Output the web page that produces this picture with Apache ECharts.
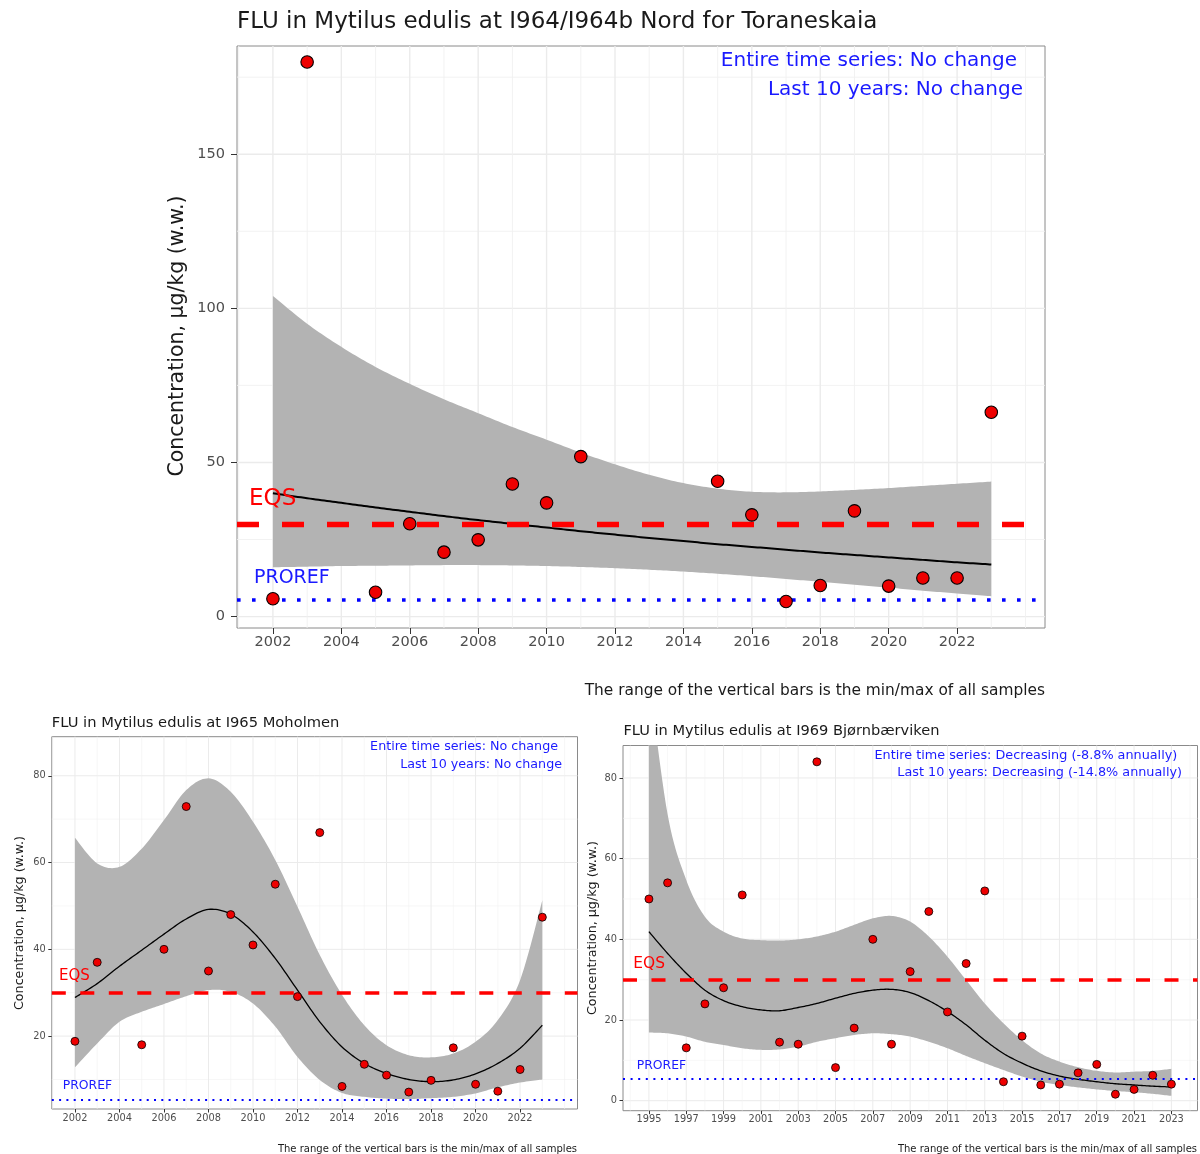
<!DOCTYPE html>
<html><head><meta charset="utf-8">
<script src="https://cdn.jsdelivr.net/npm/echarts@6/dist/echarts.min.js"></script>
<style>html,body{margin:0;padding:0;background:#fff}#c{width:1200px;height:1154px}</style>
</head><body><div id="c"></div>
<script>
// ---------------- DATA ----------------
const EQS = 30;
const PROREF = 5.4;
const caption = 'The range of the vertical bars is the min/max of all samples';
const yTitle = 'Concentration, \u00b5g/kg (w.w.)';

// Panel 1: I964/I964b Nord for Toraneskaia
const p1Title = 'FLU in Mytilus edulis at I964/I964b Nord for Toraneskaia';
const p1TrendAll = 'Entire time series: No change';
const p1Trend10 = 'Last 10 years: No change';
const p1PointYears = [2002,2003,2005,2006,2007,2008,2009,2010,2011,2015,2016,2017,2018,2019,2020,2021,2022,2023];
const p1PointValues = [5.8,179.9,7.9,30.1,20.9,24.9,43.0,36.9,51.9,43.9,33.0,4.9,10.1,34.3,9.9,12.5,12.5,66.3];
const p1FitYears = [2002,2003,2004,2005,2006,2007,2008,2009,2010,2011,2012,2013,2014,2015,2016,2017,2018,2019,2020,2021,2022,2023];
const p1Fit   = [40.0,38.4,36.9,35.4,34.0,32.6,31.3,30.1,28.9,27.7,26.6,25.5,24.5,23.5,22.6,21.7,20.8,20.0,19.2,18.4,17.6,16.9];
const p1Upper = [104,95,87.5,81,75.5,70.5,66,61.5,57.4,53.2,49.4,46,43.3,41.5,40.5,40.3,40.6,41.1,41.7,42.4,43.1,43.8];
const p1Lower = [16.0,16.2,16.4,16.5,16.6,16.7,16.7,16.6,16.4,16.1,15.7,15.2,14.6,13.9,13.1,12.2,11.3,10.3,9.4,8.4,7.5,6.6];
const p1XLabels = [2002,2004,2006,2008,2010,2012,2014,2016,2018,2020,2022];
const p1YLabels = [0,50,100,150];

// Panel 2: I965 Moholmen
const p2Title = 'FLU in Mytilus edulis at I965 Moholmen';
const p2TrendAll = 'Entire time series: No change';
const p2Trend10 = 'Last 10 years: No change';
const p2PointYears = [2002,2003,2005,2006,2007,2008,2009,2010,2011,2012,2013,2014,2015,2016,2017,2018,2019,2020,2021,2022,2023];
const p2PointValues = [18.8,37.0,18.0,40.0,72.9,35.0,48.0,41.0,55.0,29.1,66.9,8.4,13.5,11.0,7.1,9.8,17.3,8.9,7.3,12.3,47.4];
const p2FitYears = [2002,2003,2004,2005,2006,2007,2008,2009,2010,2011,2012,2013,2014,2015,2016,2017,2018,2019,2020,2021,2022,2023];
const p2Fit   = [28.9,32.1,36.1,39.8,43.5,47.0,49.2,48.1,44.0,37.9,30.6,23.3,17.5,13.7,11.4,10.0,9.5,9.9,11.3,13.7,17.2,22.5];
const p2Upper = [65.7,59.8,59.0,63.2,69.8,76.7,79.4,76.3,69.4,60.6,49.8,38.7,29.5,22.5,17.9,15.6,15.1,16.0,18.7,23.7,32.9,51.3];
const p2Lower = [12.8,18.3,23.3,25.6,27.4,29.2,30.6,30.2,27.5,22.2,15.2,9.9,6.9,6.0,5.6,5.5,5.7,6.0,6.8,8.2,9.3,10.0];
const p2XLabels = [2002,2004,2006,2008,2010,2012,2014,2016,2018,2020,2022];
const p2YLabels = [20,40,60,80];

// Panel 3: I969 Bjørnbærviken
const p3Title = 'FLU in Mytilus edulis at I969 Bj\u00f8rnb\u00e6rviken';
const p3TrendAll = 'Entire time series: Decreasing (-8.8% annually)';
const p3Trend10 = 'Last 10 years: Decreasing (-14.8% annually)';
const p3PointYears = [1995,1996,1997,1998,1999,2000,2002,2003,2004,2005,2006,2007,2008,2009,2010,2011,2012,2013,2014,2015,2016,2017,2018,2019,2020,2021,2022,2023];
const p3PointValues = [50,54,13.1,24,28,51,14.5,14,84,8.2,18,40,14,32,46.9,22,34,52,4.7,16,3.9,4.1,6.9,9,1.6,2.8,6.3,4.1];
const p3FitYears = [1995,1996,1997,1998,1999,2000,2001,2002,2003,2004,2005,2006,2007,2008,2009,2010,2011,2012,2013,2014,2015,2016,2017,2018,2019,2020,2021,2022,2023];
const p3Fit   = [41.9,36.5,31.6,27.4,24.8,23.3,22.5,22.3,23.1,24.1,25.4,26.6,27.4,27.6,26.8,24.8,22.1,18.8,15.0,11.7,9.3,7.4,6.1,5.3,4.7,4.2,3.9,3.6,3.4];
const p3Upper = [105,71,54.7,45.6,41.9,40.2,39.8,39.7,40.0,40.7,41.9,43.6,45.2,45.8,44.4,40.7,35.7,29.9,24.1,19.2,15.0,11.7,9.7,8.3,7.4,7.0,7.2,7.4,7.9];
const p3Lower = [16.9,16.7,15.9,14.6,13.8,13.0,12.6,12.7,13.4,14.6,15.5,16.3,16.7,16.5,15.9,14.6,13.0,11.1,9.3,7.6,6.0,4.7,3.9,3.3,2.8,2.4,2.1,1.7,1.2];
const p3XLabels = [1995,1997,1999,2001,2003,2005,2007,2009,2011,2013,2015,2017,2019,2021,2023];
const p3YLabels = [0,20,40,60,80];

// ---------------- LAYOUT / STYLE ----------------
const FONT = 'DejaVu Sans';
const RED = '#ff0000', BLUE = '#1a1aff', DARK = '#1a1a1a', GREY = '#4d4d4d';

const panels = [
  { grid:{left:237, top:46, width:808, height:582}, xr:[2000.95,2024.57], yr:[-3.7,185.1], yMinorStep:25, yMajorStep:50,
    years:p1PointYears, vals:p1PointValues, fy:p1FitYears, fit:p1Fit, up:p1Upper, lo:p1Lower, xl:p1XLabels, yl:p1YLabels,
    lf:14.5, tick:6, mx:7, my:12, ps:12.5, pb:1.1, fw:2, ew:5.3, ed:[22,23], pw:3.6, pd:[3.6,11.4], gM:1.4, gm:0.9 },
  { grid:{left:51.8, top:736.7, width:525.7, height:372.3}, xr:[2000.96,2024.58], yr:[3.2,89.0], yMinorStep:10, yMajorStep:20,
    years:p2PointYears, vals:p2PointValues, fy:p2FitYears, fit:p2Fit, up:p2Upper, lo:p2Lower, xl:p2XLabels, yl:p2YLabels,
    lf:9.8, tick:3.5, mx:4, my:6, ps:8, pb:0.8, fw:1.3, ew:3.6, ed:[14,14.5], pw:2, pd:[2,5.3], gM:1, gm:0.6 },
  { grid:{left:623, top:745.5, width:574.5, height:365.2}, xr:[1993.61,2024.4], yr:[-2.48,88.05], yMinorStep:10, yMajorStep:20,
    years:p3PointYears, vals:p3PointValues, fy:p3FitYears, fit:p3Fit, up:p3Upper, lo:p3Lower, xl:p3XLabels, yl:p3YLabels,
    lf:9.8, tick:3.5, mx:4, my:6, ps:8, pb:0.8, fw:1.3, ew:3.6, ed:[14,14.5], pw:2, pd:[2,5.6], gM:1, gm:0.6 }
];

// Cubic Hermite (Catmull-Rom) smoothing of pixel points, for drawing curves through the read values
function spline(pts, steps) {
  const out = [], n = pts.length;
  for (let i = 0; i < n - 1; i++) {
    const p0 = pts[Math.max(i - 1, 0)], p1 = pts[i], p2 = pts[i + 1], p3 = pts[Math.min(i + 2, n - 1)];
    const m1 = [(p2[0] - p0[0]) / 2, (p2[1] - p0[1]) / 2], m2 = [(p3[0] - p1[0]) / 2, (p3[1] - p1[1]) / 2];
    for (let s = 0; s < steps; s++) {
      const t = s / steps, t2 = t * t, t3 = t2 * t;
      const h00 = 2 * t3 - 3 * t2 + 1, h10 = t3 - 2 * t2 + t, h01 = -2 * t3 + 3 * t2, h11 = t3 - t2;
      out.push([h00 * p1[0] + h10 * m1[0] + h01 * p2[0] + h11 * m2[0],
                h00 * p1[1] + h10 * m1[1] + h01 * p2[1] + h11 * m2[1]]);
    }
  }
  out.push(pts[n - 1]);
  return out;
}

const grids = [], xAxes = [], yAxes = [], series = [];
panels.forEach(function (p, i) {
  grids.push(Object.assign({ show:true, borderColor:'#8a8a8a', borderWidth:1, backgroundColor:'#fff', containLabel:false }, p.grid));
  const lab = { fontFamily:FONT, fontSize:p.lf, color:GREY, formatter: function (v) { return String(Math.round(v)); } };
  xAxes.push({ type:'value', gridIndex:i, min:p.xr[0], max:p.xr[1], splitLine:{show:false},
    axisLine:{show:false, onZero:false},
    axisTick:{show:true, customValues:p.xl, length:p.tick, lineStyle:{color:'#333', width:1}},
    axisLabel:Object.assign({ customValues:p.xl, margin:p.mx }, lab) });
  yAxes.push({ type:'value', gridIndex:i, min:p.yr[0], max:p.yr[1], splitLine:{show:false},
    axisLine:{show:false, onZero:false},
    axisTick:{show:true, customValues:p.yl, length:p.tick, lineStyle:{color:'#333', width:1}},
    axisLabel:Object.assign({ customValues:p.yl, margin:p.my }, lab) });

  // grid lines (drawn through the axes' scales)
  const vx = []; for (let y = Math.ceil(p.xr[0]); y <= Math.floor(p.xr[1]); y++) vx.push(y);
  const hy = []; for (let v = Math.ceil(p.yr[0] / p.yMinorStep) * p.yMinorStep; v <= p.yr[1]; v += p.yMinorStep) hy.push(v);
  const xMajorSet = new Set(p.xl);
  series.push({ type:'custom', xAxisIndex:i, yAxisIndex:i, z:1, silent:true, animation:false,
    data:[[p.xr[0], p.yr[0]]],
    renderItem: function (params, api) {
      const ch = [];
      hy.forEach(function (v) {
        const a = api.coord([p.xr[0], v]), b = api.coord([p.xr[1], v]);
        const major = Math.abs(v / p.yMajorStep - Math.round(v / p.yMajorStep)) < 1e-6;
        ch.push({ type:'line', shape:{x1:a[0], y1:a[1], x2:b[0], y2:b[1]},
          style:{ stroke: major ? '#ebebeb' : '#f1f1f1', lineWidth: major ? p.gM : p.gm } });
      });
      vx.forEach(function (x) {
        const a = api.coord([x, p.yr[0]]), b = api.coord([x, p.yr[1]]);
        const major = xMajorSet.has(x);
        ch.push({ type:'line', shape:{x1:a[0], y1:a[1], x2:b[0], y2:b[1]},
          style:{ stroke: major ? '#ebebeb' : '#f1f1f1', lineWidth: major ? p.gM : p.gm } });
      });
      return { type:'group', children:ch };
    } });

  // confidence band + fitted line
  series.push({ type:'custom', xAxisIndex:i, yAxisIndex:i, z:2, silent:true, animation:false, clip:true,
    data:[[p.fy[0], p.fit[0]]],
    renderItem: function (params, api) {
      const upPx = spline(p.fy.map(function (y, k) { return api.coord([y, p.up[k]]); }), 12);
      const loPx = spline(p.fy.map(function (y, k) { return api.coord([y, p.lo[k]]); }), 12);
      const fitPx = spline(p.fy.map(function (y, k) { return api.coord([y, p.fit[k]]); }), 12);
      return { type:'group', children:[
        { type:'polygon', shape:{ points: upPx.concat(loPx.slice().reverse()) }, style:{ fill:'#b3b3b3', stroke:null } },
        { type:'polyline', shape:{ points: fitPx }, style:{ fill:null, stroke:'#000', lineWidth:p.fw } }
      ] };
    } });

  // observed points + EQS / PROREF reference lines
  series.push({ type:'scatter', xAxisIndex:i, yAxisIndex:i, z:10, animation:false, silent:true,
    data:p.years.map(function (y, k) { return [y, p.vals[k]]; }), symbol:'circle', symbolSize:p.ps,
    itemStyle:{color:'#ee0000', borderColor:'#000', borderWidth:p.pb, opacity:1},
    markLine:{ silent:true, symbol:['none','none'], animation:false, z:5, label:{show:false},
      data:[
        { yAxis:EQS, lineStyle:{color:RED, width:p.ew, type:p.ed, cap:'butt'} },
        { yAxis:PROREF, lineStyle:{color:'#0000ff', width:p.pw, type:p.pd, cap:'butt'} }
      ] } });
});

function T(text, x, y, size, color, align, rot) {
  const el = { type:'text', x:x, y:y, z:100, silent:true,
    style:{ text:text, fontFamily:FONT, fontSize:size, fill:color, align:align || 'left', verticalAlign:'middle' } };
  if (rot) el.rotation = rot;
  return el;
}
const R90 = Math.PI / 2;
const graphics = [
  T(p1Title, 237, 22.5, 23, DARK, 'left'),
  T(p1TrendAll, 1017, 61, 20, BLUE, 'right'),
  T(p1Trend10, 1023, 89.7, 20, BLUE, 'right'),
  T('EQS', 249, 498.6, 23, RED, 'left'),
  T('PROREF', 254, 578, 19, BLUE, 'left'),
  T(yTitle, 178, 336, 20.5, DARK, 'center', R90),
  T(caption, 1045, 690.5, 15.4, DARK, 'right'),

  T(p2Title, 51.8, 722.8, 14.7, DARK, 'left'),
  T(p2TrendAll, 558, 746.2, 12.7, BLUE, 'right'),
  T(p2Trend10, 562, 764.7, 12.7, BLUE, 'right'),
  T('EQS', 59, 975.7, 15, RED, 'left'),
  T('PROREF', 62.7, 1085.5, 12.4, BLUE, 'left'),
  T(yTitle, 20, 923, 12.7, DARK, 'center', R90),
  T(caption, 577, 1149, 10, DARK, 'right'),

  T(p3Title, 623.4, 731.3, 14.6, DARK, 'left'),
  T(p3TrendAll, 1177.3, 755.5, 12.8, BLUE, 'right'),
  T(p3Trend10, 1182, 773, 12.8, BLUE, 'right'),
  T('EQS', 633.3, 963.8, 15.4, RED, 'left'),
  T('PROREF', 636.7, 1066.2, 12.4, BLUE, 'left'),
  T(yTitle, 593, 928, 12.7, DARK, 'center', R90),
  T(caption, 1197, 1149, 10, DARK, 'right')
];

const chart = echarts.init(document.getElementById('c'), null, { renderer:'canvas' });
chart.setOption({
  animation:false,
  backgroundColor:'#ffffff',
  grid:grids, xAxis:xAxes, yAxis:yAxes, series:series,
  graphic:{ elements:graphics }
});
</script></body></html>
